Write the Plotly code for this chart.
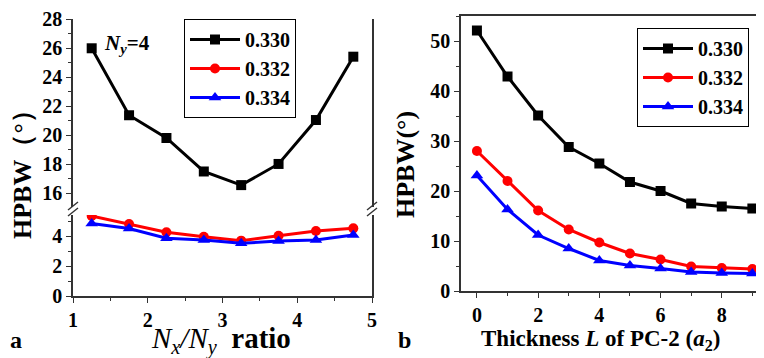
import plotly.graph_objects as go

# ---------- data ----------
ratio_x = [1.25, 1.75, 2.25, 2.75, 3.25, 3.75, 4.25, 4.75]
a_330 = [26.0, 21.38, 19.81, 17.5, 16.56, 18.02, 21.05, 25.42]
a_332 = [5.33, 4.8, 4.25, 3.95, 3.69, 4.02, 4.33, 4.51]
a_334 = [4.84, 4.5, 3.85, 3.73, 3.51, 3.67, 3.73, 4.07]

thick_x = [0, 1, 2, 3, 4, 5, 6, 7, 8, 9]
b_330 = [52.1, 42.9, 35.1, 28.8, 25.5, 21.8, 20.0, 17.5, 16.9, 16.5]
b_332 = [28.0, 22.0, 16.1, 12.3, 9.7, 7.5, 6.3, 4.9, 4.6, 4.4]
b_334 = [23.1, 16.3, 11.2, 8.5, 6.1, 5.1, 4.5, 3.8, 3.6, 3.5]

series_names = ["0.330", "0.332", "0.334"]
colors = ["black", "red", "blue"]
symbols = ["square", "circle", "triangle-up"]

# page body has an 8px margin: the figure occupies screen px [8, 764] x [8, 358]
OFF = 8
W, H = 764 - OFF, 358 - OFF
FONT = "Liberation Serif, Times New Roman, serif"

def px_x(p):
    return (p - OFF) / W

def px_y(p):
    return (358 - p) / H

fig = go.Figure()

left_data = [a_330, a_332, a_334]
for i, (vals, name) in enumerate(zip(left_data, series_names)):
    fig.add_trace(go.Scatter(
        x=ratio_x, y=vals, name="<b>" + name + "</b>", mode="lines+markers",
        xaxis="x", yaxis="y2" if i == 0 else "y",
        line=dict(color=colors[i], width=3),
        marker=dict(symbol=symbols[i], size=10 if i < 2 else 11, color=colors[i]),
        legend="legend", showlegend=True,
    ))

right_data = [b_330, b_332, b_334]
for i, (vals, name) in enumerate(zip(right_data, series_names)):
    fig.add_trace(go.Scatter(
        x=thick_x, y=vals, name="<b>" + name + "</b>", mode="lines+markers",
        xaxis="x3", yaxis="y3",
        line=dict(color=colors[i], width=3),
        marker=dict(symbol=symbols[i], size=10 if i < 2 else 11, color=colors[i]),
        legend="legend2", showlegend=True,
    ))

tickfont = dict(family=FONT, size=20, color="black")
axcommon = dict(showline=True, linecolor="#333", linewidth=1.5, ticks="outside",
                ticklen=5, tickwidth=1, tickcolor="#333", showgrid=False,
                zeroline=False, tickfont=tickfont, automargin=False,
                ticklabeloverflow="allow",
                tickprefix="<b>", ticksuffix="</b>")

lx0, lx1 = px_x(73), px_x(372)
rx0, rx1 = px_x(461), 1.0

fig.update_layout(
    width=W, height=H, margin=dict(l=0, r=0, t=0, b=0),
    paper_bgcolor="white", plot_bgcolor="white",
    font=dict(family=FONT, size=20, color="black"),
    xaxis=dict(domain=[lx0, lx1], range=[1, 5], anchor="y", dtick=1, tick0=0,
               minor=dict(ticks="outside", dtick=0.5, ticklen=3, tickcolor="#333"),
               **axcommon),
    xaxis2=dict(domain=[lx0, lx1], range=[1, 5], anchor="y2", side="top",
                showline=True, linecolor="#333", linewidth=1.5, ticks="",
                showticklabels=False, showgrid=False, zeroline=False, automargin=False),
    yaxis=dict(domain=[px_y(296), px_y(215)], range=[0, 5.4], anchor="x",
               dtick=2, tick0=0, mirror=True,
               minor=dict(ticks="outside", dtick=1, ticklen=3, tickcolor="#333"),
               **axcommon),
    yaxis2=dict(domain=[px_y(207), px_y(19)], range=[15.05, 28.02], anchor="x",
                dtick=2, tick0=0, mirror=True,
                minor=dict(ticks="outside", dtick=1, ticklen=3, tickcolor="#333"),
                **axcommon),
    xaxis3=dict(domain=[rx0, rx1], range=[-0.52, 9.38], anchor="y3", dtick=2, tick0=0,
                mirror=True,
                minor=dict(ticks="outside", dtick=1, ticklen=3, tickcolor="#333"),
                **axcommon),
    yaxis3=dict(domain=[px_y(291), px_y(16)], range=[0, 55], anchor="x3",
                dtick=10, tick0=0, mirror=True,
                minor=dict(ticks="outside", dtick=5, ticklen=3, tickcolor="#333"),
                **axcommon),
    legend=dict(x=px_x(184), y=px_y(19), xanchor="left", yanchor="top",
                bordercolor="black", borderwidth=1, bgcolor="white",
                font=dict(family=FONT, size=20, color="black"),
                tracegroupgap=0, itemwidth=50),
    legend2=dict(x=px_x(637), y=px_y(28), xanchor="left", yanchor="top",
                 bordercolor="black", borderwidth=1, bgcolor="white",
                 font=dict(family=FONT, size=20, color="black"),
                 tracegroupgap=0, itemwidth=50),
)

shapes = []
for xc in (73, 372):
    for dy in (0, 6):
        shapes.append(dict(type="line", xref="paper", yref="paper",
                           x0=px_x(xc - 5), y0=px_y(214 + dy - 4),
                           x1=px_x(xc + 5), y1=px_y(206 + dy - 4),
                           line=dict(color="#333", width=1.5)))
fig.update_layout(shapes=shapes)

ann = [
    dict(x=px_x(22), y=px_y(168), text="<b>HPBW（°）</b>", textangle=-90,
         font=dict(family=FONT, size=26, color="black")),
    dict(x=px_x(405), y=px_y(165), text="<b>HPBW(°)</b>", textangle=-90,
         font=dict(family=FONT, size=26, color="black")),
    dict(x=px_x(221), y=px_y(340),
         text="<i>N<sub>x</sub>/N<sub>y</sub></i>  <b>ratio</b>",
         font=dict(family=FONT, size=29, color="black")),
    dict(x=px_x(600), y=px_y(340),
         text="<b>Thickness <i>L</i> of PC-2 (<i>a</i><sub>2</sub>)</b>",
         font=dict(family=FONT, size=23, color="black")),
    dict(x=px_x(127), y=px_y(44), text="<b><i>N<sub>y</sub></i>=4</b>",
         font=dict(family=FONT, size=21, color="black")),
    dict(x=px_x(16), y=px_y(340), text="<b>a</b>",
         font=dict(family=FONT, size=24, color="black")),
    dict(x=px_x(404), y=px_y(340), text="<b>b</b>",
         font=dict(family=FONT, size=24, color="black")),
]
for a in ann:
    a.update(xref="paper", yref="paper", showarrow=False, xanchor="center", yanchor="middle")
fig.update_layout(annotations=ann)

fig.write_html("out.html")
